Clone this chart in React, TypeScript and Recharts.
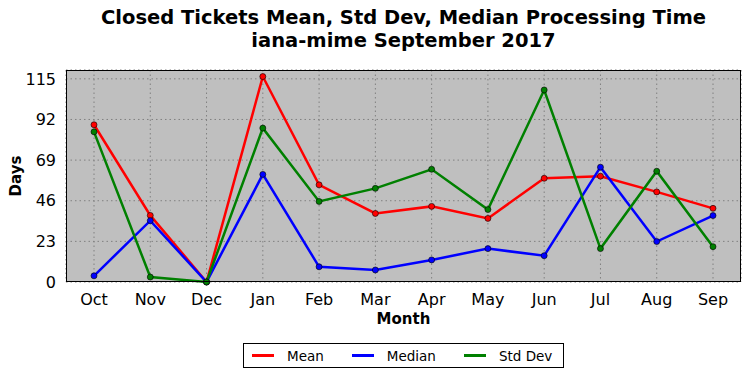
import React from 'react';
import { LineChart, Line, XAxis, YAxis, CartesianGrid } from 'recharts';

const months = ['Oct', 'Nov', 'Dec', 'Jan', 'Feb', 'Mar', 'Apr', 'May', 'Jun', 'Jul', 'Aug', 'Sep'];
const meanDays = [89, 37.7, 0, 116.3, 55, 38.8, 42.8, 36, 58.7, 59.9, 51, 41.7];
const medianDays = [3.5, 34.7, 0, 60.9, 8.6, 6.8, 12.5, 18.9, 14.9, 65, 22.9, 37.6];
const stdDevDays = [85, 2.8, 0, 87.1, 45.6, 53, 63.8, 41, 108.7, 18.9, 62.7, 20];
const yTicks = [0, 23, 46, 69, 92, 115];

const series = [
  { key: 'mean', name: 'Mean', color: '#ff0000' },
  { key: 'median', name: 'Median', color: '#0000ff' },
  { key: 'std', name: 'Std Dev', color: '#008000' },
];

const data = months.map((m, i) => ({
  month: m,
  mean: meanDays[i],
  median: medianDays[i],
  std: stdDevDays[i],
}));

const font = '"DejaVu Sans", sans-serif';

export default function App() {
  return (
    <div style={{ position: 'absolute', left: 0, top: 0, width: 750, height: 378, background: '#fff', fontFamily: font }}>
      <div style={{ position: 'absolute', left: 0, width: 807, top: 6, textAlign: 'center', fontWeight: 'bold', fontSize: 19.5, lineHeight: '23px', color: '#000' }}>
        Closed Tickets Mean, Std Dev, Median Processing Time
        <br />
        iana-mime September 2017
      </div>

      <LineChart width={750} height={378} data={data} margin={{ top: 70, right: 9, bottom: 66, left: 26 }}>
        <CartesianGrid fill="#bfbfbf" stroke="#808080" strokeDasharray="1.5 3" />
        <XAxis
          dataKey="month"
          height={30}
          padding={{ left: 28, right: 28 }}
          tickLine={false}
          axisLine={false}
          tick={{ fill: '#000', fontSize: 16, fontFamily: font }}
          tickMargin={6}
          interval={0}
        />
        <YAxis
          width={40}
          domain={[0, 120]}
          ticks={yTicks}
          tickLine={false}
          axisLine={false}
          tick={{ fill: '#000', fontSize: 16, fontFamily: font }}
          tickMargin={4}
        />
        {series.map((s) => (
          <Line
            key={s.key}
            dataKey={s.key}
            name={s.name}
            stroke={s.color}
            strokeWidth={2.5}
            dot={{ r: 3, fill: s.color, stroke: '#000', strokeWidth: 0.6 }}
            isAnimationActive={false}
          />
        ))}
      </LineChart>

      <div style={{ position: 'absolute', left: 66, top: 70, width: 675, height: 212, border: '1px solid #000', boxSizing: 'border-box', pointerEvents: 'none' }} />

      <div style={{ position: 'absolute', left: 0, top: 176, transform: 'translate(-50%, -50%) rotate(-90deg)', marginLeft: 16, fontWeight: 'bold', fontSize: 15 }}>
        Days
      </div>
      <div style={{ position: 'absolute', left: 0, width: 807, top: 310, textAlign: 'center', fontWeight: 'bold', fontSize: 15 }}>
        Month
      </div>

      <div style={{ position: 'absolute', left: 243, top: 343, width: 321, height: 25, border: '1px solid #000', boxSizing: 'border-box', background: '#fff', display: 'flex', alignItems: 'center', fontSize: 13.5 }}>
        {series.map((s, i) => (
          <div key={s.key} style={{ display: 'flex', alignItems: 'center', marginLeft: i === 0 ? 8 : 28 }}>
            <div style={{ width: 22, height: 2.5, background: s.color, marginRight: 13 }} />
            <span>{s.name}</span>
          </div>
        ))}
      </div>
    </div>
  );
}
